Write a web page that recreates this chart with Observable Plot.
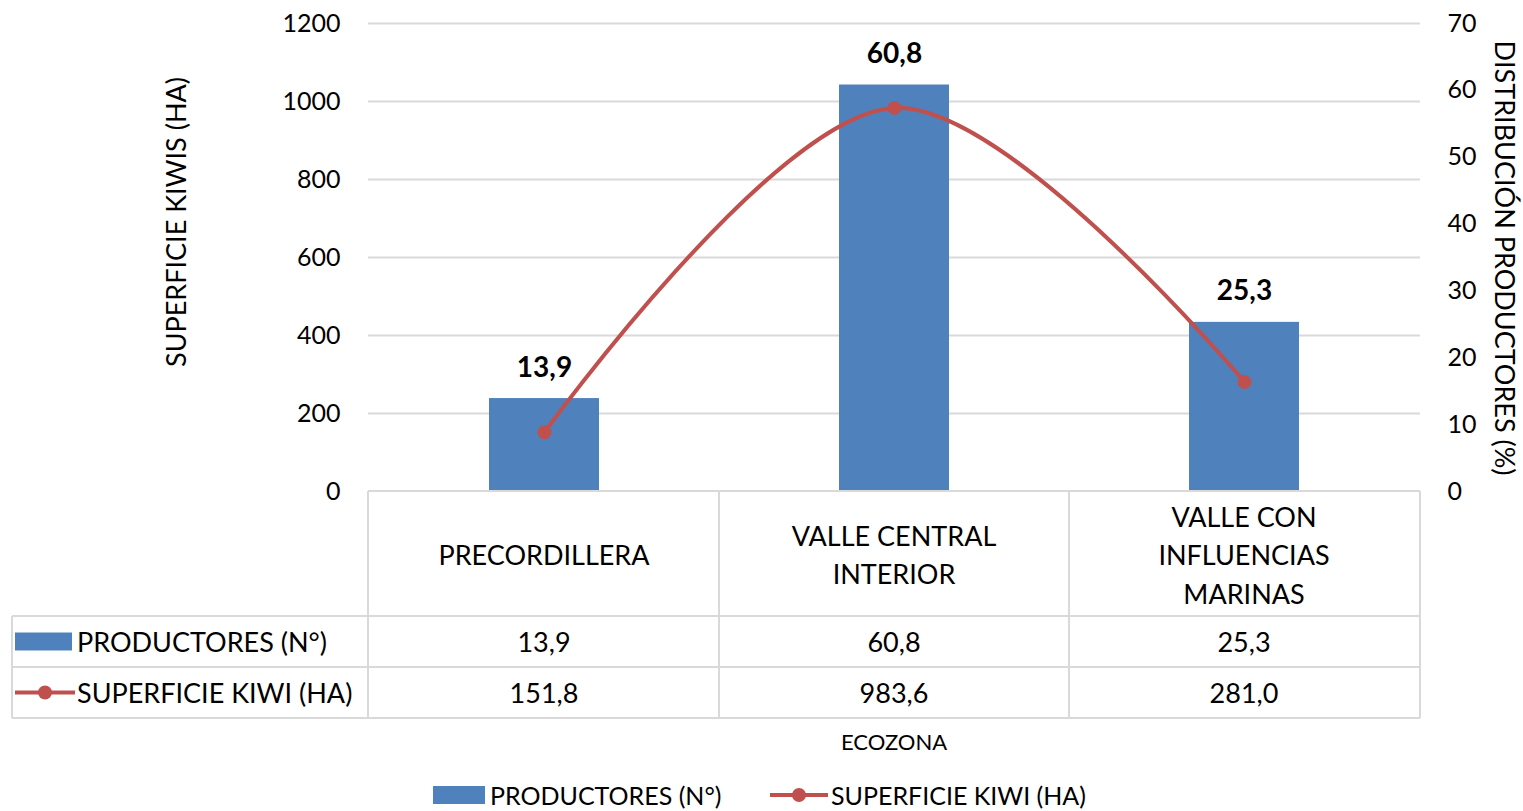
<!DOCTYPE html>
<html>
<head>
<meta charset="utf-8">
<script src="https://cdn.jsdelivr.net/npm/d3@7"></script>
<script src="https://cdn.jsdelivr.net/npm/@observablehq/plot@0.6"></script>
<style>
  html, body { margin: 0; padding: 0; background: #fff; }
  #chart { width: 1523px; height: 811px; }
  svg { font-family: Lato, "Open Sans", sans-serif; }
</style>
</head>
<body>
<div id="chart"></div>
<script>
// ---- data ----
const categories = ["PRECORDILLERA", "VALLE CENTRAL INTERIOR", "VALLE CON INFLUENCIAS MARINAS"];
const categoryLines = [["PRECORDILLERA"], ["VALLE CENTRAL", "INTERIOR"], ["VALLE CON", "INFLUENCIAS", "MARINAS"]];
const productores = [13.9, 60.8, 25.3];          // right axis (%)
const superficie = [151.8, 983.6, 281.0];        // left axis (HA)
const leftTicks = [0, 200, 400, 600, 800, 1000, 1200];
const rightTicks = [0, 10, 20, 30, 40, 50, 60, 70];
const seriesNames = ["PRODUCTORES (N°)", "SUPERFICIE KIWI (HA)"];
const leftTitle = "SUPERFICIE KIWIS (HA)";
const rightTitle = "DISTRIBUCIÓN PRODUCTORES (%)";
const xTitle = "ECOZONA";

const leftMax = 1200, rightMax = 70;
const toLeft = v => v * leftMax / rightMax;
const fmt = v => v.toFixed(1).replace(".", ",");

const data = categories.map((c, i) => ({cat: c, prod: productores[i], sup: superficie[i]}));

const BLUE = "#4F81BD", RED = "#C0504D", GRID = "#D9D9D9";

const plot = Plot.plot({
  width: 1523, height: 811,
  marginLeft: 368, marginRight: 103, marginTop: 23, marginBottom: 320,
  x: {domain: categories, paddingInner: 0.687, paddingOuter: 0.3435, axis: null},
  y: {domain: [0, leftMax], axis: null},
  style: {fontFamily: "Lato, 'Open Sans', sans-serif", fontSize: "25px", color: "#000", background: "#fff"},
  marks: [
    Plot.gridY(leftTicks.filter(t => t > 0), {stroke: GRID, strokeOpacity: 1, strokeWidth: 2}),
    Plot.axisY(leftTicks, {anchor: "left", tickSize: 0, tickPadding: 28, label: null, fontSize: 25, fill: "#000",
      tickFormat: d => String(d)}),
    Plot.axisY(rightTicks.map(toLeft), {anchor: "right", tickSize: 0, tickPadding: 27, label: null, fontSize: 25, fill: "#000",
      tickFormat: d => String(Math.round(d * rightMax / leftMax))}),
    Plot.barY(data, {x: "cat", y: d => toLeft(d.prod), fill: BLUE}),
    Plot.text(data, {x: "cat", y: d => toLeft(d.prod), text: d => fmt(d.prod), dy: -22, lineAnchor: "bottom",
      fontWeight: "bold", fontSize: 28, fill: "#000"}),
    Plot.line(data, {x: "cat", y: "sup", stroke: RED, strokeWidth: 4, curve: "catmull-rom"}),
    Plot.dot(data, {x: "cat", y: "sup", r: 7, fill: RED, stroke: "none"})
  ]
});

document.getElementById("chart").appendChild(plot);

// ---- data table, titles, legend (positioned with the plot's x scale) ----
const svg = d3.select(plot);
const xs = plot.scale("x");
const centers = categories.map(c => xs.apply(c) + xs.bandwidth / 2);
const plotLeft = 368, plotRight = 1523 - 103, baseY = 811 - 320;
const bounds = [plotLeft];
for (let i = 0; i < centers.length - 1; i++) bounds.push((centers[i] + centers[i + 1]) / 2);
bounds.push(plotRight);

const tableLeft = 12, headerBottom = 616, row1Bottom = 667, row2Bottom = 718;
const g = svg.append("g").attr("fill", "#000").attr("font-size", 27).attr("text-anchor", "start");
const line = (x1, y1, x2, y2) => g.append("line").attr("x1", x1).attr("y1", y1).attr("x2", x2).attr("y2", y2)
  .attr("stroke", GRID).attr("stroke-width", 2);

// table grid
line(plotLeft, baseY, plotRight, baseY);
bounds.forEach(b => line(b, baseY, b, row2Bottom));
line(tableLeft, headerBottom, tableLeft, row2Bottom);
[headerBottom, row1Bottom, row2Bottom].forEach(y => line(tableLeft, y, plotRight, y));

// header texts
const headerMid = (baseY + headerBottom) / 2 + 1;
categoryLines.forEach((lines, i) => {
  const lh = 38.5;
  lines.forEach((t, j) => {
    g.append("text").attr("x", centers[i]).attr("y", headerMid + (j - (lines.length - 1) / 2) * lh)
      .attr("text-anchor", "middle").attr("dominant-baseline", "central").text(t);
  });
});

// row values
const row1Mid = (headerBottom + row1Bottom) / 2, row2Mid = (row1Bottom + row2Bottom) / 2;
categories.forEach((c, i) => {
  g.append("text").attr("x", centers[i]).attr("y", row1Mid).attr("text-anchor", "middle")
    .attr("dominant-baseline", "central").text(fmt(productores[i]));
  g.append("text").attr("x", centers[i]).attr("y", row2Mid).attr("text-anchor", "middle")
    .attr("dominant-baseline", "central").text(fmt(superficie[i]));
});

// row labels with swatches
function barSwatch(x, y, w) {
  g.append("rect").attr("x", x).attr("y", y - 9).attr("width", w).attr("height", 18).attr("fill", BLUE);
}
function lineSwatch(x, y, w) {
  g.append("line").attr("x1", x).attr("y1", y).attr("x2", x + w).attr("y2", y)
    .attr("stroke", RED).attr("stroke-width", 4);
  g.append("circle").attr("cx", x + w / 2).attr("cy", y).attr("r", 7).attr("fill", RED);
}
barSwatch(15, row1Mid, 57);
g.append("text").attr("x", 77).attr("y", row1Mid).attr("text-anchor", "start").attr("dominant-baseline", "central").text(seriesNames[0]);
lineSwatch(15, row2Mid, 60);
g.append("text").attr("x", 77).attr("y", row2Mid).attr("text-anchor", "start").attr("dominant-baseline", "central").text(seriesNames[1]);

// x title
g.append("text").attr("x", (plotLeft + plotRight) / 2).attr("y", 741).attr("text-anchor", "middle")
  .attr("dominant-baseline", "central").attr("font-size", 22).text(xTitle);

// axis titles
g.append("text").attr("transform", `translate(175,222) rotate(-90)`).attr("text-anchor", "middle")
  .attr("dominant-baseline", "central").attr("font-size", 27).text(leftTitle);
g.append("text").attr("transform", `translate(1505,258) rotate(90)`).attr("text-anchor", "middle")
  .attr("dominant-baseline", "central").attr("font-size", 27).text(rightTitle);

// bottom legend
const legY = 795;
barSwatch(433, legY, 52);
g.append("text").attr("x", 490).attr("y", legY).attr("text-anchor", "start").attr("dominant-baseline", "central")
  .attr("font-size", 25).text(seriesNames[0]);
lineSwatch(770, legY, 58);
g.append("text").attr("x", 831).attr("y", legY).attr("text-anchor", "start").attr("dominant-baseline", "central")
  .attr("font-size", 25).text(seriesNames[1]);
</script>
</body>
</html>
